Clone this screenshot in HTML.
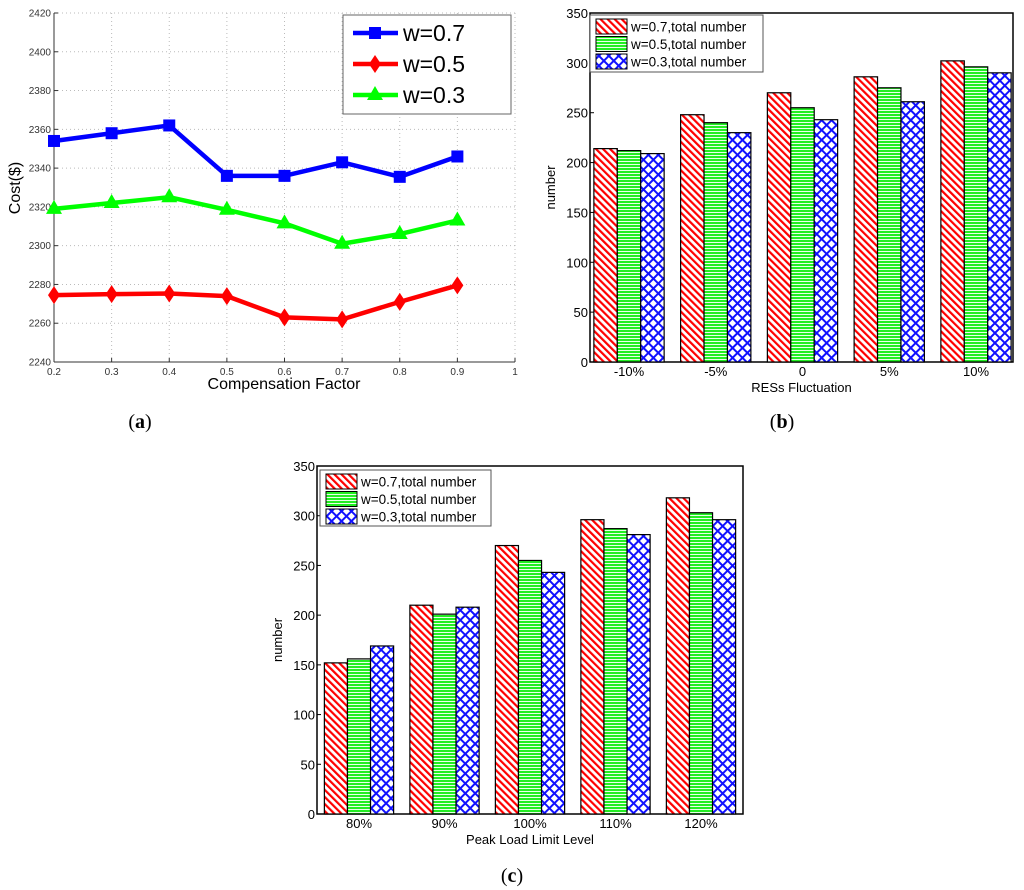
<!DOCTYPE html>
<html><head><meta charset="utf-8">
<style>
html,body{margin:0;padding:0;background:#fff;width:1024px;height:890px;overflow:hidden;}
svg{position:absolute;left:0;top:0;font-family:"Liberation Sans",Arial,sans-serif;}
</style></head>
<body>
<svg id="fig" width="1024" height="890" viewBox="0 0 1024 890" xmlns="http://www.w3.org/2000/svg">
<defs>
<pattern id="pRed" patternUnits="userSpaceOnUse" width="5" height="5" patternTransform="rotate(-45)">
<rect width="5" height="5" fill="#fff"/><rect x="0" y="0" width="2.2" height="5" fill="#ff0000"/></pattern>
<pattern id="pGreen" patternUnits="userSpaceOnUse" width="4" height="3">
<rect width="4" height="3" fill="#22ee22"/><rect y="2" width="4" height="1" fill="#e8ffe8"/></pattern>
<pattern id="pBlue" patternUnits="userSpaceOnUse" width="7" height="7" patternTransform="rotate(45)">
<rect width="7" height="7" fill="#fff"/><rect width="2" height="7" fill="#1111ff"/><rect width="7" height="2" fill="#1111ff"/></pattern>
</defs>
<g id="chartA"></g>
<g id="chartB"></g>
<g id="chartC"></g>
<text x="140" y="428" text-anchor="middle" font-family="Liberation Serif,serif" font-size="20">(<tspan font-weight="bold">a</tspan>)</text>
<text x="782" y="428" text-anchor="middle" font-family="Liberation Serif,serif" font-size="20">(<tspan font-weight="bold">b</tspan>)</text>
<text x="512" y="882" text-anchor="middle" font-family="Liberation Serif,serif" font-size="20">(<tspan font-weight="bold">c</tspan>)</text>
</svg>
<script>
// ---- Chart A data ----
const aX = [0.2,0.3,0.4,0.5,0.6,0.7,0.8,0.9];
const aW07 = [2354,2358,2362,2336,2336,2343,2335.5,2346];
const aW05 = [2274.5,2275,2275.3,2274,2263,2262,2271,2279.5];
const aW03 = [2319,2322,2325,2318.5,2311.5,2301,2306,2313];
const aXTicks = [0.2,0.3,0.4,0.5,0.6,0.7,0.8,0.9,1];
const aYTicks = [2240,2260,2280,2300,2320,2340,2360,2380,2400,2420];
// ---- Chart B data ----
const bCats = ["-10%","-5%","0","5%","10%"];
const bW07 = [214,248,270,286,302];
const bW05 = [212,240,255,275,296];
const bW03 = [209,230,243,261,290];
// ---- Chart C data ----
const cCats = ["80%","90%","100%","110%","120%"];
const cW07 = [152,210,270,296,318];
const cW05 = [156,201,255,287,303];
const cW03 = [169,208,243,281,296];
const barYTicks = [0,50,100,150,200,250,300,350];

const NS="http://www.w3.org/2000/svg";
function mk(parent,tag,attrs,text){const e=document.createElementNS(NS,tag);for(const k in attrs)e.setAttribute(k,attrs[k]);if(text!==undefined)e.textContent=text;parent.appendChild(e);return e;}

// ---- Chart A ----
(function(){
const g=document.getElementById('chartA');
const L=54,R=515,T=13,B=362;
const sx=v=>L+(v-0.2)/(1-0.2)*(R-L);
const sy=v=>B-(v-2240)/(2420-2240)*(B-T);
aXTicks.forEach(t=>{
  const x=sx(t);
  if(t>0.2){const gl=mk(g,'line',{x1:x,x2:x,y1:T,y2:B,stroke:'#bbb','stroke-dasharray':'1,3','stroke-width':1});
  }
  mk(g,'line',{x1:x,x2:x,y1:B,y2:B-4,stroke:'#333'});
  const tl=mk(g,'text',{x:x,y:B+13,'font-size':10,'text-anchor':'middle',fill:'#333'},String(t));
  
});
aYTicks.forEach(t=>{
  const y=sy(t);
  if(t>2240){const gl=mk(g,'line',{x1:L,x2:R,y1:y,y2:y,stroke:'#bbb','stroke-dasharray':'1,3','stroke-width':1});
  }
  mk(g,'line',{x1:L,x2:L+4,y1:y,y2:y,stroke:'#333'});
  const tl=mk(g,'text',{x:L-3,y:y+3.5,'font-size':10,'text-anchor':'end',fill:'#333'},String(t));
  
});
mk(g,'line',{x1:L,x2:L,y1:T,y2:B,stroke:'#333'});
mk(g,'line',{x1:L,x2:R,y1:B,y2:B,stroke:'#333'});
const xt=mk(g,'text',{x:284,y:389,'font-size':16,'text-anchor':'middle'},'Compensation Factor');

const yt=mk(g,'text',{x:0,y:0,'font-size':16,'text-anchor':'middle',transform:'translate(20,188) rotate(-90)'},'Cost($)');

function marker(par,type,x,y,col){
  if(type==='sq') return mk(par,'rect',{x:x-6,y:y-6,width:12,height:12,fill:col});
  if(type==='di') return mk(par,'polygon',{points:`${x},${y-9} ${x+6},${y} ${x},${y+9} ${x-6},${y}`,fill:col});
  return mk(par,'polygon',{points:`${x},${y-9} ${x+8},${y+5} ${x-8},${y+5}`,fill:col});
}
const series=[[aW07,'#0000ff','sq','series-w07'],[aW05,'#ff0000','di','series-w05'],[aW03,'#00ff00','tr','series-w03']];
series.forEach(([vals,col,m,nm])=>{
  const sg=mk(g,'g',{});
  
  const pts=vals.map((v,i)=>sx(aX[i])+','+sy(v)).join(' ');
  mk(sg,'polyline',{points:pts,fill:'none',stroke:col,'stroke-width':4.5,'stroke-linejoin':'round'});
  vals.forEach((v,i)=>{const p=marker(sg,m,sx(aX[i]),sy(v),col);
    });
});
const lg=mk(g,'g',{});

mk(lg,'rect',{x:343,y:15,width:168,height:99,fill:'#fff',stroke:'#666'});
series.forEach(([vals,col,m,nm],i)=>{
  const y=33+i*31;
  const le=mk(lg,'g',{});
  
  mk(le,'line',{x1:353,x2:398,y1:y,y2:y,stroke:col,'stroke-width':4.5});
  marker(le,m,375,y,col);
  mk(le,'text',{x:403,y:y+8,'font-size':23},['w=0.7','w=0.5','w=0.3'][i]);
});
})();

// ---- Bar charts ----
function barChart(gid,L,R,T,B,cats,s1,s2,s3,c0,cN,xtitle,xtY,legendBox){
const g=document.getElementById(gid);
const sy=v=>B-v/350*(B-T);
const step=(cN-c0)/(cats.length-1);
const bw=step*0.27;
const sx=i=>c0+i*step;
mk(g,'rect',{x:L,y:T,width:R-L,height:B-T,fill:'#fff',stroke:'#000','stroke-width':1.5});
barYTicks.forEach(t=>{
  const y=sy(t);
  mk(g,'line',{x1:L,x2:L+4,y1:y,y2:y,stroke:'#000'});
  const tl=mk(g,'text',{x:L-2,y:y+5,'font-size':13,'text-anchor':'end'},String(t));
  
});
const fills=['url(#pRed)','url(#pGreen)','url(#pBlue)'];
const names=['bar-w07','bar-w05','bar-w03'];
[s1,s2,s3].forEach((vals,k)=>{
  vals.forEach((v,i)=>{
    const x=sx(i)+(k-1.5)*bw;
    const r=mk(g,'rect',{x:x,y:sy(v),width:bw,height:sy(0)-sy(v),fill:fills[k],stroke:'#000','stroke-width':1.2});
    
    
  });
});
cats.forEach((c,i)=>{
  const tl=mk(g,'text',{x:sx(i),y:B+14,'font-size':13,'text-anchor':'middle'},c);
  
});
const xt=mk(g,'text',{x:(L+R)/2,y:xtY,'font-size':13,'text-anchor':'middle'},xtitle);

const yt=mk(g,'text',{x:0,y:0,'font-size':13,'text-anchor':'middle',transform:`translate(${L-35},${(T+B)/2}) rotate(-90)`},'number');

const [lx,ly,lw,lh]=legendBox;
const lg=mk(g,'g',{});

mk(lg,'rect',{x:lx,y:ly,width:lw,height:lh,fill:'#fff',stroke:'#555'});
['w=0.7,total number','w=0.5,total number','w=0.3,total number'].forEach((t,k)=>{
  const y=ly+4+k*17.5;
  const le=mk(lg,'g',{});
  
  mk(le,'rect',{x:lx+6,y:y,width:31,height:15,fill:fills[k],stroke:'#000'});
  mk(le,'text',{x:lx+41,y:y+12.5,'font-size':13.5},t);
});
}
barChart('chartB',590,1013,13,362,bCats,bW07,bW05,bW03,629,976,'RESs Fluctuation',392,[590,15,173,57]);
barChart('chartC',317,743,466,814,cCats,cW07,cW05,cW03,359,701,'Peak Load Limit Level',844,[320,470,171,56]);
</script>
</body></html>
